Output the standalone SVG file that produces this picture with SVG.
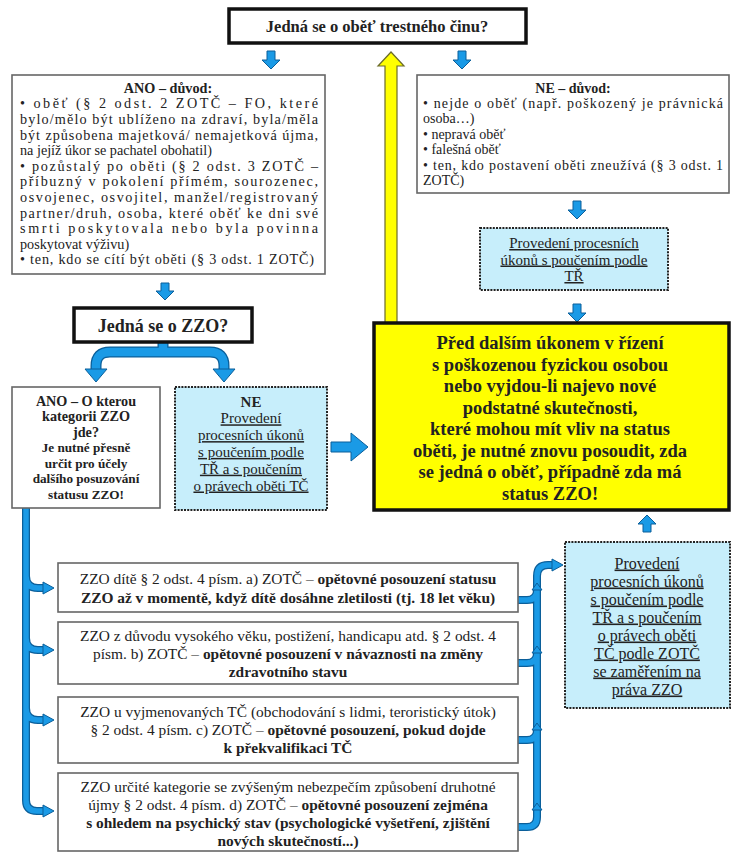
<svg xmlns="http://www.w3.org/2000/svg" width="734" height="854" viewBox="0 0 734 854" font-family="'Liberation Serif', 'DejaVu Serif', serif">
<style>
text{fill:#222}
.b{font-weight:bold}
.c{text-anchor:middle}
.u{text-decoration:underline}
.box{fill:#fff;stroke:#666;stroke-width:1.6}
.thick{fill:#fff;stroke:#111;stroke-width:3.5}
.blue{fill:#c7eefb;stroke:#222;stroke-width:2;stroke-dasharray:2 1.2}
.yel{fill:#ffff00;stroke:#111;stroke-width:3.5}
.arr{fill:#1a9ae6;stroke:#0b5f9a;stroke-width:1}
.lineO{fill:none;stroke:#0b5f9a;stroke-width:8}
.lineI{fill:none;stroke:#1a9ae6;stroke-width:5.5}
.bandO{fill:none;stroke:#0b5f9a;stroke-width:11}
.bandI{fill:none;stroke:#1a9ae6;stroke-width:8.5}
.yarr{fill:#ffff00;stroke:#6b6b2a;stroke-width:1.2}
</style>

<g id="connectors">
  <path class="arr" d="M267,51 h8 v9 h5 l-9,9 l-9,-9 h5 z"/>
  <path class="arr" d="M458,51 h8 v9 h5 l-9,9 l-9,-9 h5 z"/>
  <path class="yarr" d="M385,323 V66 h-7 l13,-14 l13,14 h-7 V323 z"/>
  <path class="arr" d="M573,201 h8 v9 h5 l-9,9 l-9,-9 h5 z"/>
  <path class="arr" d="M573,304 h8 v9 h5 l-9,9 l-9,-9 h5 z"/>
  <path class="arr" d="M161,283 h8 v8 h5 l-9,9 l-9,-9 h5 z"/>
  <path class="bandO" d="M163,341 V352 M163,352 H110 Q96,352 96,366 V372 M163,352 H210 Q224,352 224,366 V372"/>
  <path class="bandI" d="M163,341 V352 M163,352 H110 Q96,352 96,366 V372 M163,352 H210 Q224,352 224,366 V372"/>
  <path class="arr" d="M85,369 h22 l-11,13 z"/>
  <path class="arr" d="M213,369 h22 l-11,13 z"/>
  <path class="arr" d="M331,442 h20 v-9 l17,14 l-17,14 v-9 h-20 z"/>
  <path class="arr" d="M643,532 h8 v-8 h5 l-9,-9 l-9,9 h5 z"/>
  <path class="lineO" d="M26,508 V800 Q26,811 37,811 H44 M26,576 Q26,588 38,588 H44 M26,638 Q26,650 38,650 H44 M26,708 Q26,720 38,720 H44"/>
  <path class="lineI" d="M26,508 V800 Q26,811 37,811 H44 M26,576 Q26,588 38,588 H44 M26,638 Q26,650 38,650 H44 M26,708 Q26,720 38,720 H44"/>
  <path class="arr" d="M43,582 l11,6 l-11,6 z"/>
  <path class="arr" d="M43,644 l11,6 l-11,6 z"/>
  <path class="arr" d="M43,714 l11,6 l-11,6 z"/>
  <path class="arr" d="M43,805 l11,6 l-11,6 z"/>
  <path class="lineO" d="M518,827 H527 Q537,827 537,817 V576 Q537,565 548,565 H553 M518,600 H527 Q537,600 537,590 M518,663 H527 Q537,663 537,653 M518,740 H527 Q537,740 537,730"/>
  <path class="lineI" d="M518,827 H527 Q537,827 537,817 V576 Q537,565 548,565 H553 M518,600 H527 Q537,600 537,590 M518,663 H527 Q537,663 537,653 M518,740 H527 Q537,740 537,730"/>
  <path class="arr" d="M552,559 l11,6 l-11,6 z"/>
  <path class="arr" d="M532,590 l5,-7 l5,7 z"/>
  <path class="arr" d="M532,653 l5,-7 l5,7 z"/>
  <path class="arr" d="M532,730 l5,-7 l5,7 z"/>
  <path class="arr" d="M532,810 l5,-7 l5,7 z"/>
</g>

<g id="n-top">
  <rect class="thick" x="229" y="9" width="297" height="34"/>
  <text class="b c" x="377" y="31.5" font-size="16.5">Jedná se o oběť trestného činu?</text>
</g>

<g id="n-ano">
  <rect class="box" x="12" y="75" width="313" height="199"/>
  <g font-size="14.2">
    <text class="b c" x="168" y="92.7">ANO – důvod:</text>
    <text x="20" y="108.3" textLength="298" lengthAdjust="spacing">• oběť (§ 2 odst. 2 ZOTČ – FO, které</text>
    <text x="20" y="123.9" textLength="298" lengthAdjust="spacing">bylo/mělo být ublíženo na zdraví, byla/měla</text>
    <text x="20" y="139.5" textLength="298" lengthAdjust="spacing">být způsobena majetková/ nemajetková újma,</text>
    <text x="20" y="155.1">na jejíž úkor se pachatel obohatil)</text>
    <text x="20" y="170.7" textLength="298" lengthAdjust="spacing">• pozůstalý po oběti (§ 2 odst. 3 ZOTČ –</text>
    <text x="20" y="186.3" textLength="298" lengthAdjust="spacing">příbuzný v pokolení přímém, sourozenec,</text>
    <text x="20" y="201.9" textLength="298" lengthAdjust="spacing">osvojenec, osvojitel, manžel/registrovaný</text>
    <text x="20" y="217.5" textLength="298" lengthAdjust="spacing">partner/druh, osoba, které oběť ke dni své</text>
    <text x="20" y="233.1" textLength="298" lengthAdjust="spacing">smrti poskytovala nebo byla povinna</text>
    <text x="20" y="248.7">poskytovat výživu)</text>
    <text x="20" y="264.3" textLength="294" lengthAdjust="spacing">• ten, kdo se cítí být oběti (§ 3 odst. 1 ZOTČ)</text>
  </g>
</g>

<g id="n-ne">
  <rect class="box" x="417" y="75" width="312" height="118"/>
  <g font-size="14">
    <text class="b c" x="573" y="92.6">NE – důvod:</text>
    <text x="423" y="108" textLength="300" lengthAdjust="spacing">• nejde o oběť (např. poškozený je právnická</text>
    <text x="423" y="123.4">osoba…)</text>
    <text x="423" y="138.8">• nepravá oběť</text>
    <text x="423" y="154.2">• falešná oběť</text>
    <text x="423" y="169.6" textLength="300" lengthAdjust="spacing">• ten, kdo postavení oběti zneužívá (§ 3 odst. 1</text>
    <text x="423" y="185">ZOTČ)</text>
  </g>
</g>

<g id="n-tr">
  <rect class="blue" x="480" y="228" width="188" height="62"/>
  <g font-size="15">
    <text class="c u" x="574" y="248">Provedení procesních</text>
    <text class="c u" x="574" y="264.5">úkonů s poučením podle</text>
    <text class="c u" x="574" y="281">TŘ</text>
  </g>
</g>

<g id="n-yellow">
  <rect class="yel" x="374" y="323" width="355" height="187"/>
  <g font-size="18.5">
    <text class="b c" x="550" y="349">Před dalším úkonem v řízení</text>
    <text class="b c" x="550" y="370.5">s poškozenou fyzickou osobou</text>
    <text class="b c" x="550" y="392">nebo vyjdou-li najevo nové</text>
    <text class="b c" x="550" y="413.5">podstatné skutečnosti,</text>
    <text class="b c" x="550" y="435">které mohou mít vliv na status</text>
    <text class="b c" x="550" y="456.5">oběti, je nutné znovu posoudit, zda</text>
    <text class="b c" x="550" y="478">se jedná o oběť, případně zda má</text>
    <text class="b c" x="550" y="499.5">status ZZO!</text>
  </g>
</g>

<g id="n-zzo">
  <rect class="thick" x="74" y="308" width="178" height="34"/>
  <text class="b c" x="163" y="331.5" font-size="18">Jedná se o ZZO?</text>
</g>

<g id="n-ano-zzo">
  <rect class="box" x="12" y="387" width="148" height="121"/>
  <g font-size="14.2">
    <text class="b c" x="86" y="405.8">ANO – O kterou</text>
    <text class="b c" x="86" y="421.3">kategorii ZZO</text>
    <text class="b c" x="86" y="436.8">jde?</text>
  </g>
  <g font-size="13.2">
    <text class="b c" x="86" y="452">Je nutné přesně</text>
    <text class="b c" x="86" y="467.5">určit pro účely</text>
    <text class="b c" x="86" y="483">dalšího posuzování</text>
    <text class="b c" x="86" y="498.5">statusu ZZO!</text>
  </g>
</g>

<g id="n-ne-zzo">
  <rect class="blue" x="175" y="387" width="152" height="123"/>
  <g font-size="15">
    <text class="b c" x="251" y="406.5">NE</text>
    <text class="c u" x="251" y="423.3">Provedení</text>
    <text class="c u" x="251" y="440.1">procesních úkonů</text>
    <text class="c u" x="251" y="456.9">s poučením podle</text>
    <text class="c u" x="251" y="473.7">TŘ a s poučením</text>
    <text class="c u" x="251" y="490.5">o právech oběti TČ</text>
  </g>
</g>

<g id="n-zzo-a">
  <rect class="box" x="58" y="563" width="460" height="49"/>
  <g font-size="15.4">
    <text class="c" x="288" y="584">ZZO dítě § 2 odst. 4 písm. a) ZOTČ – <tspan class="b">opětovné posouzení statusu</tspan></text>
    <text class="b c" x="288" y="603">ZZO až v momentě, když dítě dosáhne zletilosti (tj. 18 let věku)</text>
  </g>
</g>

<g id="n-zzo-b">
  <rect class="box" x="58" y="622" width="460" height="62"/>
  <g font-size="15.4">
    <text class="c" x="288" y="641">ZZO z důvodu vysokého věku, postižení, handicapu atd. § 2 odst. 4</text>
    <text class="c" x="288" y="659">písm. b) ZOTČ – <tspan class="b">opětovné posouzení v návaznosti na změny</tspan></text>
    <text class="b c" x="288" y="677">zdravotního stavu</text>
  </g>
</g>

<g id="n-zzo-c">
  <rect class="box" x="58" y="697" width="460" height="66"/>
  <g font-size="15.4">
    <text class="c" x="288" y="717">ZZO u vyjmenovaných TČ (obchodování s lidmi, teroristický útok)</text>
    <text class="c" x="288" y="735">§ 2 odst. 4 písm. c) ZOTČ – <tspan class="b">opětovné posouzení, pokud dojde</tspan></text>
    <text class="b c" x="288" y="753">k překvalifikaci TČ</text>
  </g>
</g>

<g id="n-zzo-d">
  <rect class="box" x="58" y="773" width="460" height="78"/>
  <g font-size="15.4">
    <text class="c" x="288" y="792">ZZO určité kategorie se zvýšeným nebezpečím způsobení druhotné</text>
    <text class="c" x="288" y="810">újmy § 2 odst. 4 písm. d) ZOTČ – <tspan class="b">opětovné posouzení zejména</tspan></text>
    <text class="b c" x="288" y="828">s ohledem na psychický stav (psychologické vyšetření, zjištění</text>
    <text class="b c" x="288" y="846">nových skutečností...)</text>
  </g>
</g>

<g id="n-zzo-rights">
  <rect class="blue" x="565" y="542" width="165" height="166"/>
  <g font-size="16">
    <text class="c u" x="647" y="568.5">Provedení</text>
    <text class="c u" x="647" y="586.5">procesních úkonů</text>
    <text class="c u" x="647" y="604.5">s poučením podle</text>
    <text class="c u" x="647" y="622.5">TŘ a s poučením</text>
    <text class="c u" x="647" y="640.5">o právech oběti</text>
    <text class="c u" x="647" y="658.5">TČ podle ZOTČ</text>
    <text class="c u" x="647" y="676.5">se zaměřením na</text>
    <text class="c u" x="647" y="694.5">práva ZZO</text>
  </g>
</g>
</svg>
